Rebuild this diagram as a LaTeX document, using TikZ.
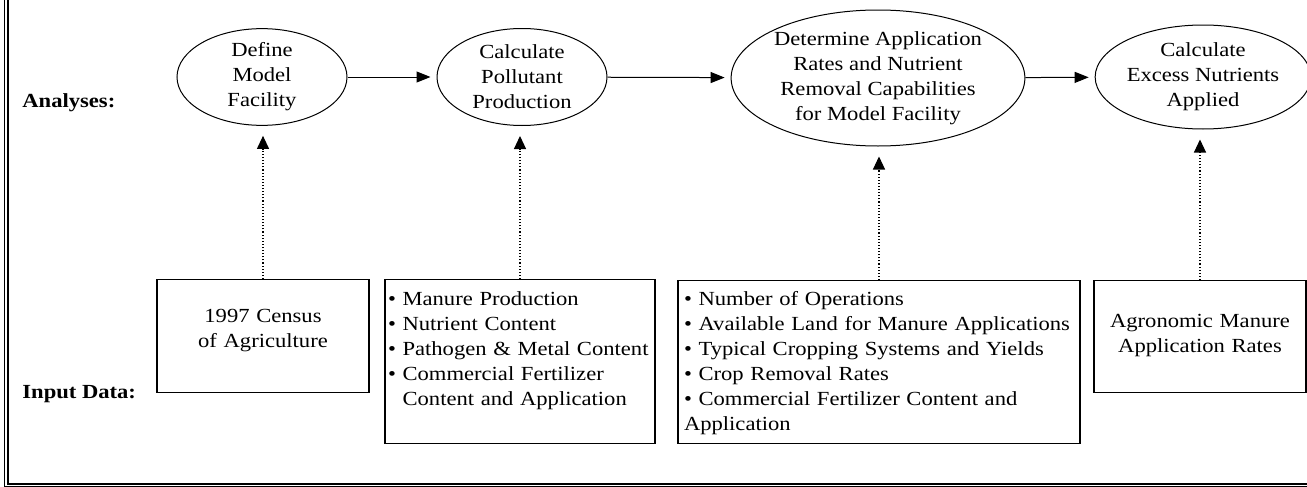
\documentclass[tikz,border=0pt]{standalone}
\usepackage{fontspec}
\setmainfont[FakeStretch=1.13]{Liberation Serif}
\usetikzlibrary{arrows.meta,shapes.geometric}
\newcommand{\diagfont}{\fontsize{10}{12.5}\selectfont}
\tikzset{
  analysis/.style={ellipse, draw, line width=0.5pt, inner sep=0pt, align=center},
  inputbox/.style={draw, line width=0.6pt, anchor=north, inner ysep=0pt, inner xsep=3pt},
  rowlabel/.style={anchor=base west, inner sep=0pt, font=\diagfont\bfseries},
  flow/.style={-{Triangle[length=7pt,width=5.5pt]}, line width=0.5pt, shorten >=3pt},
  feed/.style={-{Triangle[length=6.5pt,width=6pt]}, line width=0.55pt, densely dotted, shorten >=5pt}
}
\begin{document}
\begin{tikzpicture}[x=0.5pt, y=-0.5pt, font=\diagfont]
\useasboundingbox (0,0) rectangle (1307,487);
% double frame
\draw[line width=0.8pt] (4.3,0) -- (4.3,486.3) -- (1307,486.3);
\draw[line width=0.9pt] (8.2,0) -- (8.2,483.8) -- (1307,483.8);

\node[rowlabel] (an) at (22,107) {Analyses:};
\node[rowlabel] (in) at (22,398) {Input Data:};

% analyses
\node[analysis, minimum width=85pt, minimum height=48pt] (e1) at (262,77) {Define\\Model\\Facility};
\node[analysis, minimum width=85pt, minimum height=48.5pt] (e2) at (522,77) {Calculate\\Pollutant\\Production};
\node[analysis, minimum width=142.5pt, minimum height=68pt] (e3) at (878,78) {Determine Application\\Rates and Nutrient\\Removal Capabilities\\for Model Facility};
\node[analysis, minimum width=96pt, minimum height=52pt] (e4) at (1203,77) {Calculate\\Excess Nutrients\\Applied};

% input data
\node[inputbox, text width=100pt, align=center, text height=21.5pt, text depth=35pt] (b1) at (263,279) {1997 Census\\of Agriculture};
\node[inputbox, inner xsep=1.5pt, text width=132pt, align=left, text height=13pt, text depth=69pt] (b2) at (520,279)
  {• Manure Production\\• Nutrient Content\\• Pathogen \& Metal Content\\• Commercial Fertilizer\\\hphantom{• }Content and Application};
\node[inputbox, text width=195pt, align=left, text height=12.5pt, text depth=69pt] (b3) at (879,280)
  {• Number of Operations\\• Available Land for Manure Applications\\• Typical Cropping Systems and Yields\\• Crop Removal Rates\\• Commercial Fertilizer Content and\\Application};
\node[inputbox, text width=100pt, align=center, text height=23.5pt, text depth=32.5pt] (b4) at (1200,280) {Agronomic Manure\\Application Rates};

\draw[flow] (e1) -- (e2);
\draw[flow] (e2) -- (e3);
\draw[flow] (e3) -- (e4);

\draw[feed] (b1.north) -- (b1.north |- e1.south);
\draw[feed] (b2.north) -- (b2.north |- e2.south);
\draw[feed] (b3.north) -- (b3.north |- e3.south);
\draw[feed] (b4.north) -- (b4.north |- e4.south);
\end{tikzpicture}
\end{document}
